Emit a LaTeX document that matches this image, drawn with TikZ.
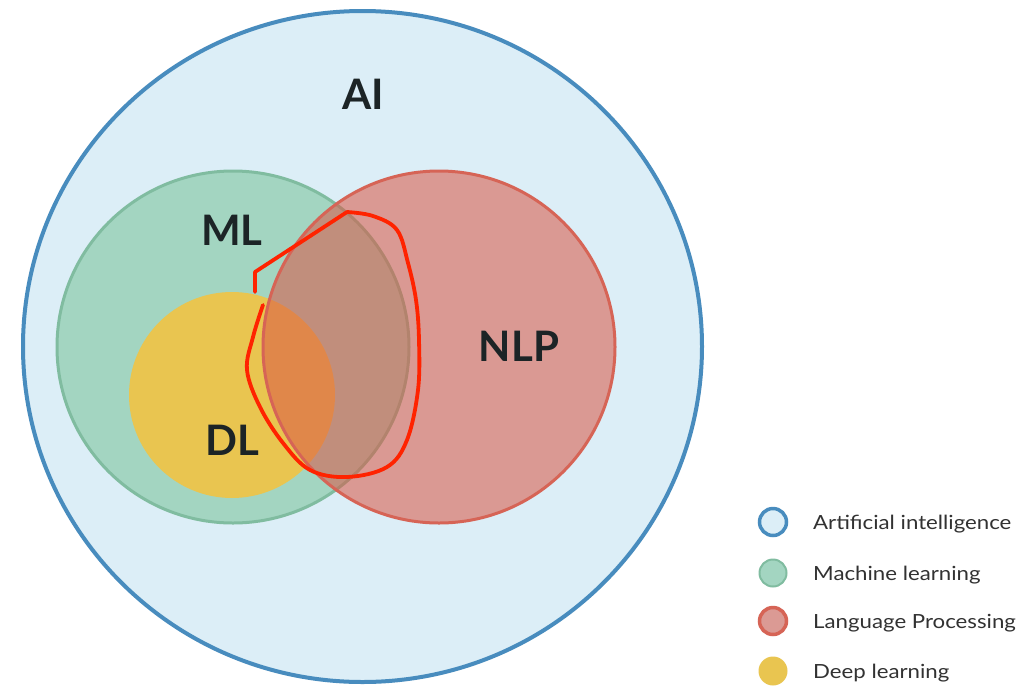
\documentclass[tikz,border=0pt]{standalone}
\usepackage{fontspec}
\setmainfont{Lato}
\usetikzlibrary{shapes.geometric}
\definecolor{aifill}{RGB}{220,238,247}
\definecolor{aiborder}{RGB}{72,140,190}
\definecolor{mlfill}{RGB}{163,213,193}
\definecolor{mlborder}{RGB}{128,188,160}
\definecolor{dlfill}{RGB}{233,197,80}
\definecolor{nlpbase}{RGB}{218,88,70}
\definecolor{nlpborder}{RGB}{214,100,86}
\definecolor{nlplegend}{RGB}{219,154,148}
\definecolor{annot}{RGB}{255,35,0}
\definecolor{labeltext}{RGB}{28,36,38}
\definecolor{legendtext}{RGB}{50,50,50}
\newcommand{\legwide}[1]{\scalebox{1.14}[1]{#1}}
\begin{document}
\begin{tikzpicture}[x=1pt,y=-1pt,
  setcircle/.style={circle,inner sep=0pt,outer sep=0pt},
  biglabel/.style={inner sep=0pt,font=\fontsize{42}{44}\selectfont\bfseries,text=labeltext},
  legcirc/.style={circle,inner sep=0pt,minimum size=27pt},
  legtxt/.style={inner sep=0pt,anchor=base west,font=\fontsize{19.5}{22}\selectfont,text=legendtext},
  annotline/.style={draw=annot,line width=3.8pt,line cap=round,line join=round}]
\useasboundingbox[fill=white] (0,0) rectangle (1031,689);

% sets
\node[ellipse,inner sep=0pt,draw=aiborder,line width=4pt,fill=aifill,
      minimum width=679pt,minimum height=671pt] (ai) at (362.5,346.5) {};
\node[setcircle,draw=mlborder,line width=3pt,fill=mlfill,minimum size=352pt] (ml) at (233,347) {};
\node[setcircle,fill=dlfill,minimum size=206pt] (dl) at (232,395) {};
\node[setcircle,fill=nlpbase,fill opacity=0.56,minimum size=352pt] (nlp) at (439,347) {};
\node[setcircle,draw=nlpborder,line width=3pt,minimum size=352pt] (nlpb) at (439,347) {};

% labels
\node[biglabel] (tai) at (363,94) {AI};
\node[biglabel] (tml) at (232,230) {ML};
\node[biglabel] (tdl) at (232,440) {DL};
\node[biglabel] (tnlp) at (519,346) {NLP};

% hand-drawn annotation
\draw[annotline] (255,292) -- (255,272) -- (347,212);
\draw[annotline] plot[smooth,tension=0.6] coordinates {
  (347,212) (373,216) (397,230) (408,263) (416,300) (419,340) (418,390)
  (407,440) (387,467) (347,477) (310,470) (283,443) (260,407) (247,370)
  (253,337) (263,305)};

% legend
\node[legcirc,draw=aiborder,line width=3.5pt,fill=aifill] (lai) at (773,522) {};
\node[legcirc,draw=mlborder,line width=2pt,fill=mlfill] (lml) at (773,573) {};
\node[legcirc,draw=nlpborder,line width=3.5pt,fill=nlplegend] (lnlp) at (773,621) {};
\node[legcirc,fill=dlfill,minimum size=29pt] (ldl) at (773,671) {};
\node[legtxt] (tlai) at (813,529) {\legwide{Artificial intelligence}};
\node[legtxt] (tlml) at (813,580) {\legwide{Machine learning}};
\node[legtxt] (tlnlp) at (813,628) {\legwide{Language Processing}};
\node[legtxt] (tldl) at (813,678) {\legwide{Deep learning}};
\end{tikzpicture}
\end{document}
